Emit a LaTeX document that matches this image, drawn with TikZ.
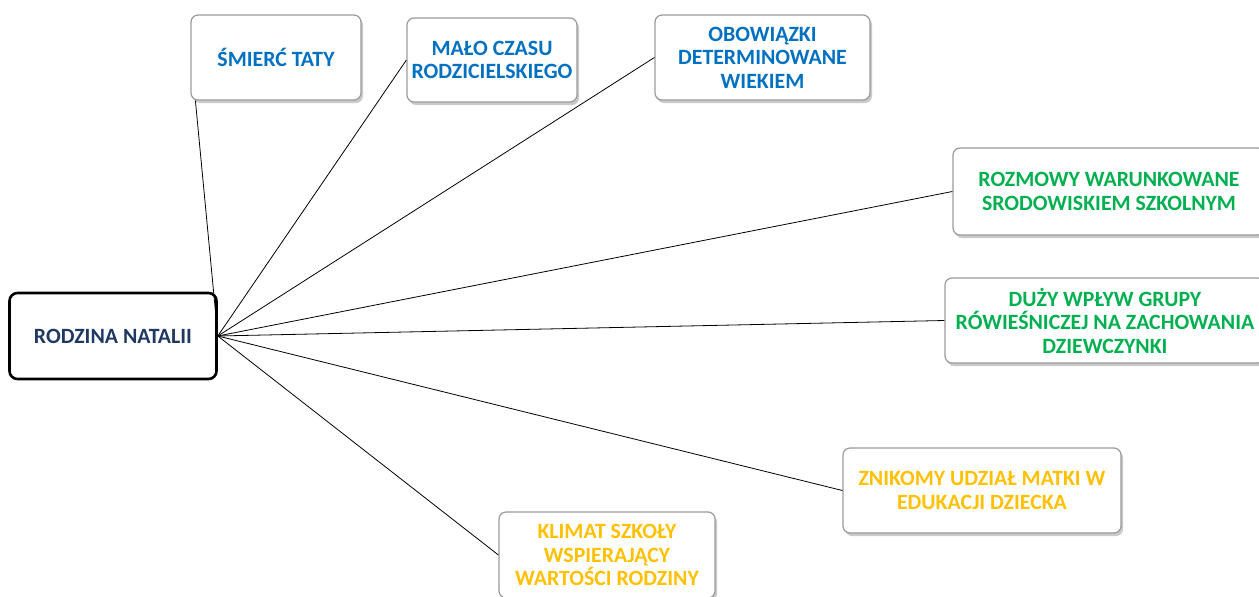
\documentclass[tikz,border=0pt]{standalone}
\usepackage{fontspec}
\setmainfont{Carlito}
\usetikzlibrary{shadows}
\definecolor{topicblue}{HTML}{0070C0}
\definecolor{topicgreen}{HTML}{00B050}
\definecolor{topicgold}{HTML}{FFC000}
\definecolor{hubnavy}{HTML}{203864}
\definecolor{boxedge}{HTML}{9A9A9A}
\begin{document}
\begin{tikzpicture}[x=1pt,y=-1pt,
  every node/.style={inner sep=0pt, font=\bfseries\fontsize{21.8}{23.5}\selectfont, align=center},
  hub/.style={draw=black, line width=2.6pt, rounded corners=8pt, fill=white, text=hubnavy},
  topic/.style={draw=boxedge, line width=1.2pt, rounded corners=7pt, fill=white,
    drop shadow={shadow xshift=2pt, shadow yshift=-3pt, opacity=0.35, fill=black!60}},
  spoke/.style={draw=black, line width=0.8pt}]
\useasboundingbox (0,0) rectangle (1259,597);

% central node
\node[hub, minimum width=207pt, minimum height=86pt] (hub) at (113,336) {RODZINA NATALII};

% topic boxes
\node[topic, text=topicblue, minimum width=170pt, minimum height=85pt] (smierc) at (276,57.5) {ŚMIERĆ TATY};
\node[topic, text=topicblue, minimum width=170pt, minimum height=84pt] (malo) at (492,60) {MAŁO CZASU\\RODZICIELSKIEGO};
\node[topic, text=topicblue, minimum width=215pt, minimum height=85pt] (obow) at (762.5,57.5) {OBOWIĄZKI\\DETERMINOWANE\\WIEKIEM};
\node[topic, text=topicgreen, minimum width=312pt, minimum height=87pt] (rozm) at (1109,191.5) {ROZMOWY WARUNKOWANE\\SRODOWISKIEM SZKOLNYM};
\node[topic, text=topicgreen, minimum width=320pt, minimum height=85pt] (duzy) at (1105,320.5) {DUŻY WPŁYW GRUPY\\RÓWIEŚNICZEJ NA ZACHOWANIA\\DZIEWCZYNKI};
\node[topic, text=topicgold, minimum width=278pt, minimum height=85pt] (znik) at (982,490.5) {ZNIKOMY UDZIAŁ MATKI W\\EDUKACJI DZIECKA};
\node[topic, text=topicgold, minimum width=216pt, minimum height=86pt] (klim) at (607,555) {KLIMAT SZKOŁY\\WSPIERAJĄCY\\WARTOŚCI RODZINY};

% spokes from the central node
\draw[spoke] (hub.east) -- ([xshift=5pt]smierc.south west);
\draw[spoke] (hub.east) -- (malo.west);
\draw[spoke] (hub.east) -- (obow.west);
\draw[spoke] (hub.east) -- (rozm.west);
\draw[spoke] (hub.east) -- (duzy.west);
\draw[spoke] (hub.east) -- (znik.west);
\draw[spoke] (hub.east) -- (klim.west);
\end{tikzpicture}
\end{document}
